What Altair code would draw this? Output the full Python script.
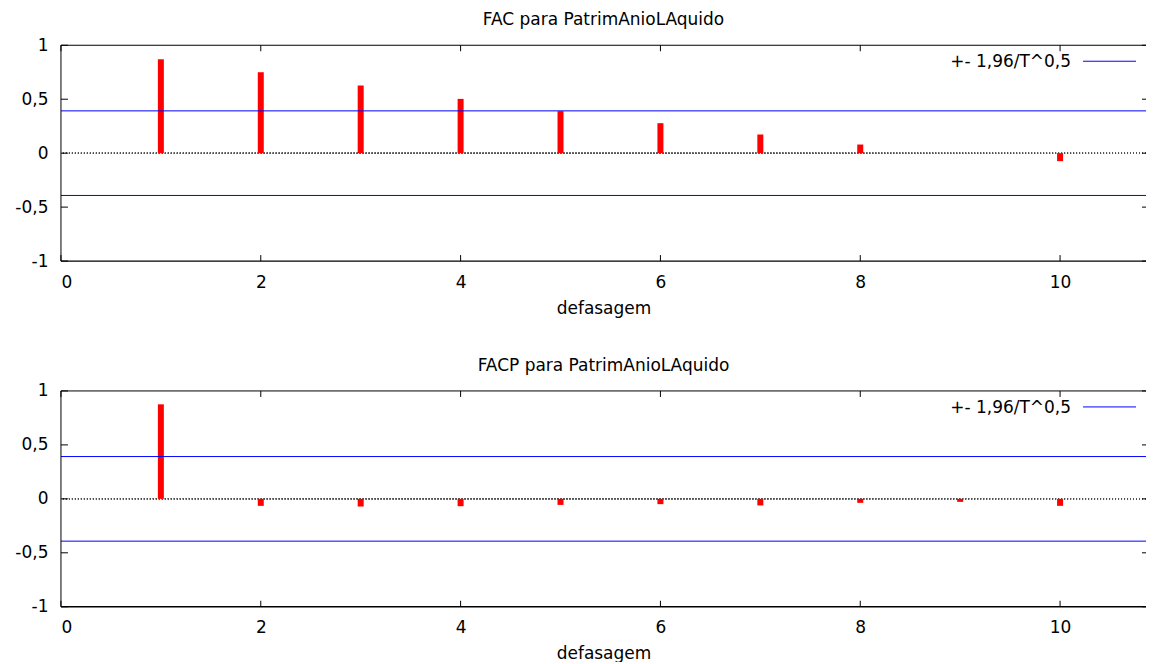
import altair as alt
import pandas as pd

# ---- data ----
lags = [1, 2, 3, 4, 5, 6, 7, 8, 9, 10]
acf_values = [0.870, 0.750, 0.627, 0.503, 0.389, 0.278, 0.173, 0.080, 0.0, -0.074]
pacf_values = [0.876, -0.065, -0.071, -0.068, -0.056, -0.049, -0.061, -0.037, -0.028, -0.065]
band_values = [0.392, -0.392]
x_ticks = [0, 2, 4, 6, 8, 10]
y_ticks = [-1, -0.5, 0, 0.5, 1]
legend_label = ["+- 1,96/T^0,5"]
panel_titles = ["FAC para PatrimAnioLAquido", "FACP para PatrimAnioLAquido"]
x_title = "defasagem"

FONT = "DejaVu Sans"
FS = 17
W, H = 1086, 216
XMAX = 10.86


def panel(values, title):
    df = pd.DataFrame({"lag": lags, "v": values})
    xs = alt.Scale(domain=[0, XMAX], nice=False, zero=False)
    ys = alt.Scale(domain=[-1, 1], nice=False)
    X = alt.X("lag:Q", scale=xs,
              axis=alt.Axis(values=x_ticks, title=x_title, format="d"))
    Y = alt.Y("v:Q", scale=ys,
              axis=alt.Axis(values=y_ticks, title=None,
                            labelExpr="replace(toString(datum.value), '.', ',')"))

    bars = alt.Chart(df).mark_rule(color="#ff0000", strokeWidth=6, strokeCap="butt").encode(
        x=X, y=Y, y2=alt.datum(0))

    zero = alt.Chart(df).mark_rule(color="#555555", strokeWidth=1, strokeDash=[1, 2]).encode(
        y=alt.datum(0))

    bdf = pd.DataFrame({"v": band_values})
    band = alt.Chart(bdf).mark_rule(color="#0000ff", strokeWidth=1).encode(y=Y)

    # frame (left, top, bottom; the right side is cut off in the reference)
    frame_df = pd.DataFrame({"k": [0]})
    f_left = alt.Chart(frame_df).mark_rule(color="black").encode(
        x=alt.value(0), y=alt.value(0), y2=alt.value(H))
    f_top = alt.Chart(frame_df).mark_rule(color="black").encode(
        y=alt.value(0), x=alt.value(0), x2=alt.value(W))
    f_bottom = alt.Chart(frame_df).mark_rule(color="black", strokeWidth=1.3).encode(
        y=alt.value(H), x=alt.value(0), x2=alt.value(W))

    xt = pd.DataFrame({"lag": x_ticks})
    xt_bottom = alt.Chart(xt).mark_rule(color="black").encode(
        x=X, y=alt.value(H), y2=alt.value(H - 6))
    xt_top = alt.Chart(xt).mark_rule(color="black").encode(
        x=X, y=alt.value(0), y2=alt.value(6))
    yt = pd.DataFrame({"v": y_ticks})
    yt_left = alt.Chart(yt).mark_rule(color="black").encode(
        y=Y, x=alt.value(0), x2=alt.value(7))
    yt_right = alt.Chart(yt).mark_rule(color="black").encode(
        y=Y, x=alt.value(W), x2=alt.value(W - 4))

    ldf = pd.DataFrame({"t": legend_label})
    leg_text = alt.Chart(ldf).mark_text(align="right", baseline="middle", font=FONT,
                                        fontSize=FS, color="black").encode(
        text="t:N", x=alt.value(1011), y=alt.value(17))
    leg_line = alt.Chart(ldf).mark_rule(color="#0000ff", strokeWidth=1).encode(
        x=alt.value(1023), x2=alt.value(1076), y=alt.value(16))

    return alt.layer(zero, bars, band, f_left, f_top, f_bottom,
                     xt_bottom, xt_top, yt_left, yt_right,
                     leg_text, leg_line).properties(
        width=W, height=H,
        title=alt.TitleParams(title, font=FONT, fontSize=FS, fontWeight="normal",
                              color="black", offset=7, anchor="middle"))


chart = alt.vconcat(panel(acf_values, panel_titles[0]),
                    panel(pacf_values, panel_titles[1]),
                    spacing=41).properties(
    padding={"left": 0, "top": 3, "right": 0, "bottom": 0},
    background="white"
).configure_view(stroke=None).configure_axis(
    grid=False, domain=False, ticks=False, labelFont=FONT, labelFontSize=FS,
    labelColor="black", titleFont=FONT, titleFontSize=FS, titleFontWeight="normal",
    titleColor="black", labelPadding=13, titlePadding=10
).configure_axisY(minExtent=53, maxExtent=53, labelPadding=13)

chart.save("out.html", embed_options={"renderer": "svg", "actions": False})
